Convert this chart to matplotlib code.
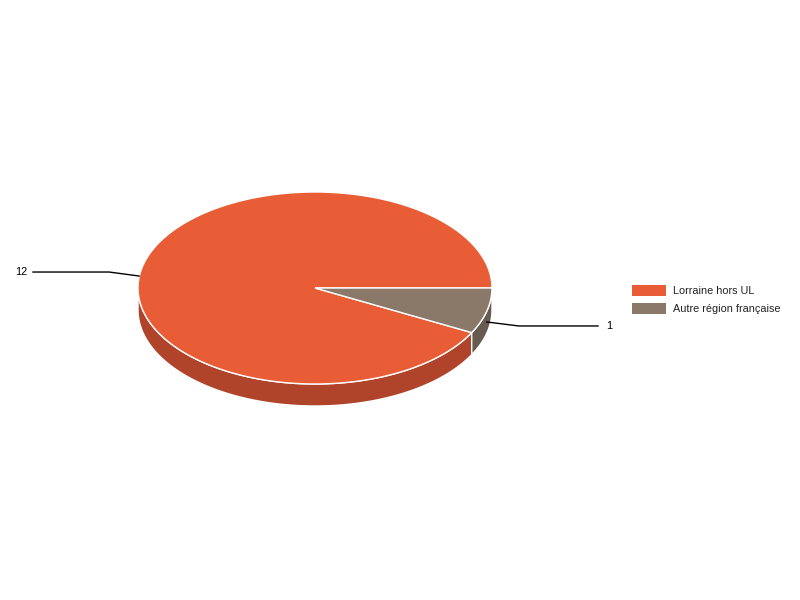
import numpy as np
import matplotlib
matplotlib.use("Agg")
import matplotlib.pyplot as plt
from matplotlib.patches import Polygon, Rectangle

categories = ["Lorraine hors UL", "Autre région française"]
values = [12, 1]
top_colors = ["#E95D36", "#8A7869"]
side_colors = ["#B0442A", "#675A4F"]

plt.rcParams['font.family'] = ['Liberation Sans', 'DejaVu Sans']

fig = plt.figure(figsize=(8, 6), dpi=100)
ax = fig.add_axes([0, 0, 1, 1])
ax.set_xlim(0, 800)
ax.set_ylim(600, 0)
ax.axis('off')

cx, cy, rx, ry, depth = 315, 288, 177, 96, 22

def pt(theta_deg, dy=0.0):
    t = np.radians(theta_deg)
    return cx + rx * np.cos(t), cy + ry * np.sin(t) + dy

total = sum(values)
spans = [v / total * 360 for v in values]
ranges = {1: (0.0, spans[1]), 0: (spans[1], 360.0)}

# side walls
for i in (0, 1):
    a0, a1 = ranges[i]
    f0, f1 = max(a0, 0), min(a1, 180)
    if f1 > f0:
        th = np.linspace(f0, f1, 200)
        xs, ys = pt(th)
        top = np.column_stack([xs, ys])
        bot = np.column_stack([xs, ys + depth])[::-1]
        poly = Polygon(np.vstack([top, bot]), closed=True, facecolor=side_colors[i],
                       edgecolor='white', linewidth=1, zorder=1)
        ax.add_patch(poly)

# top faces
for i in (0, 1):
    a0, a1 = ranges[i]
    th = np.linspace(a0, a1, 400)
    xs, ys = pt(th)
    verts = np.vstack([[cx, cy], np.column_stack([xs, ys])])
    poly = Polygon(verts, closed=True, facecolor=top_colors[i],
                   edgecolor='white', linewidth=1, zorder=2)
    ax.add_patch(poly)

# leader lines and labels
for i in (0, 1):
    a0, a1 = ranges[i]
    mid = (a0 + a1) / 2
    x0, y0 = pt(mid, depth / 2)
    if np.cos(np.radians(mid)) < 0:
        x0 -= 4
        xb, yb = x0 - 30, y0 - 4
        xe = 33
        ax.plot([x0, xb, xe], [y0, yb, yb], color='black', lw=1, zorder=3)
        ax.text(xe - 6, yb, str(values[i]), ha='right', va='center', fontsize=7.9)
    else:
        xb, yb = x0 + 32, y0 + 4
        xe = 598
        ax.plot([x0, xb, xe], [y0, yb, yb], color='black', lw=1, zorder=3)
        ax.text(xe + 8, yb, str(values[i]), ha='left', va='center', fontsize=7.9)

# legend
for i, (cat, col) in enumerate(zip(categories, top_colors)):
    y = 285 + i * 18
    ax.add_patch(Rectangle((632, y), 34, 11, facecolor=col, edgecolor='none'))
    ax.text(673, y + 5.5, cat, ha='left', va='center', fontsize=7.8, color='#222222')

fig.savefig("out.png", dpi=100)
